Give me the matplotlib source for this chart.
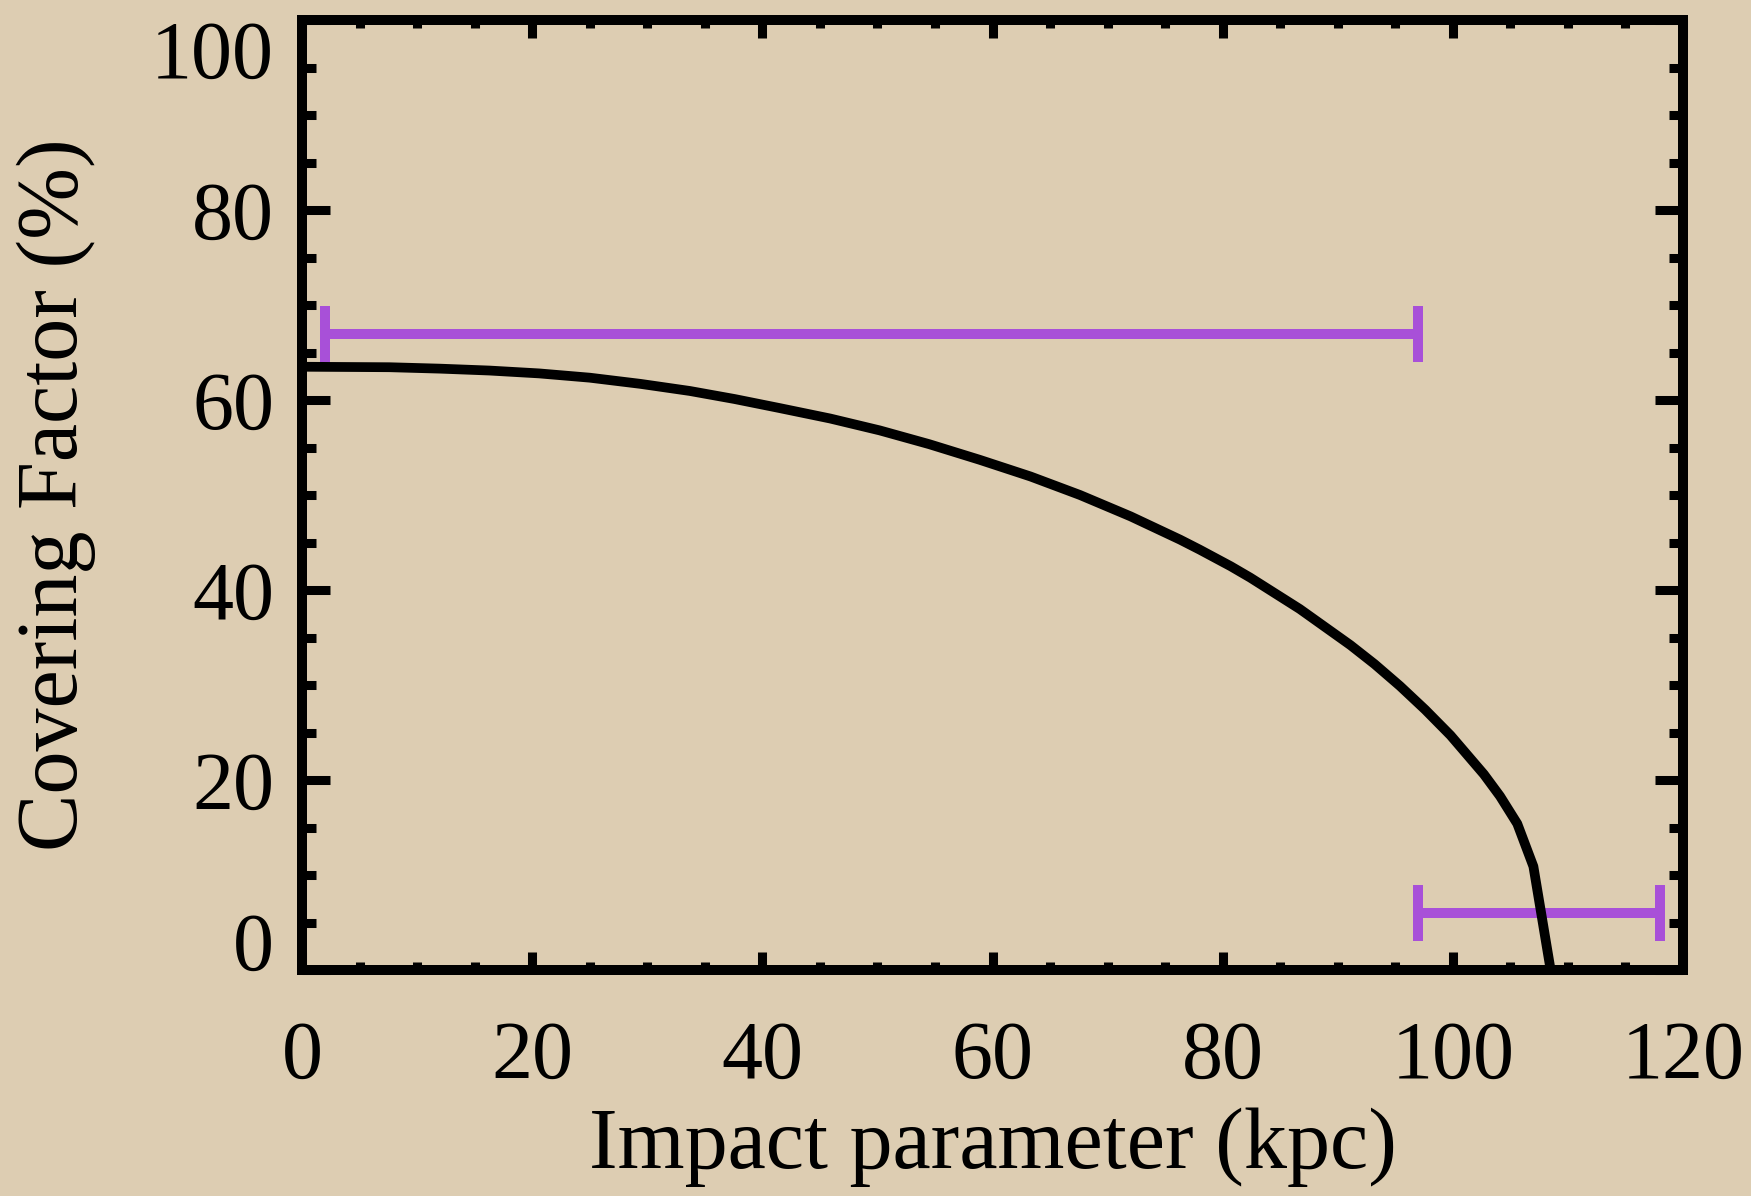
import numpy as np
import matplotlib.pyplot as plt
from matplotlib.ticker import MultipleLocator

# covering factor model curve
impact_kpc = [0, 7.6, 12, 16.3, 20.6, 25.0, 29.4, 33.7, 37.6, 41.5, 45.9, 50.2,
              54.5, 58.9, 63.3, 67.6, 72.0, 76.3, 78.0, 80.7, 82.4, 86.7, 91.1,
              93.2, 95.4, 97.6, 99.8, 102.7, 104.1, 105.6, 107.0, 108.5]
cover_pct = [63.5, 63.45, 63.3, 63.1, 62.8, 62.35, 61.7, 60.95, 60.1, 59.15, 58.05, 56.8,
             55.35, 53.7, 51.95, 50.0, 47.75, 45.3, 44.25, 42.5, 41.3, 38.0, 34.2,
             32.2, 29.9, 27.4, 24.7, 20.6, 18.3, 15.4, 10.9, 0.0]

# measured covering factor in impact-parameter bins
bin_lo = [2, 97]
bin_hi = [97, 118]
bin_cf = [67, 6]

x_ticks = [0, 20, 40, 60, 80, 100, 120]
y_ticks = [0, 20, 40, 60, 80, 100]

bg = '#DDCDB2'
purple = '#A850D8'

plt.rcParams['font.family'] = ['Liberation Serif', 'DejaVu Serif']

fig = plt.figure(figsize=(17.51, 11.96), dpi=100, facecolor=bg)
ax = fig.add_axes([302 / 1751, 1 - 970 / 1196, 1381 / 1751, 950 / 1196])
ax.set_facecolor(bg)

ax.plot(impact_kpc, cover_pct, color='black', lw=7.0, solid_joinstyle='round',
        solid_capstyle='butt', zorder=3)

centers = [(a + b) / 2 for a, b in zip(bin_lo, bin_hi)]
halfw = [(b - a) / 2 for a, b in zip(bin_lo, bin_hi)]
ax.errorbar(centers, bin_cf, xerr=halfw, fmt='none', ecolor=purple,
            elinewidth=7.2, capsize=20.5, capthick=7.2, zorder=2)

ax.set_xlim(0, 120)
ax.set_ylim(0, 100)
ax.set_xticks(x_ticks)
ax.set_yticks(y_ticks)
ax.xaxis.set_minor_locator(MultipleLocator(5))
ax.yaxis.set_minor_locator(MultipleLocator(5))

for s in ax.spines.values():
    s.set_linewidth(7.2)

ax.tick_params(which='both', direction='in', top=True, right=True, width=6.5,
               colors='black', labelsize=59)
ax.tick_params(axis='x', which='major', length=13, pad=36)
ax.tick_params(axis='x', which='minor', length=6)
ax.tick_params(axis='y', which='major', length=20, pad=20)
ax.tick_params(axis='y', which='minor', length=10)

# IDL-like placement of the end labels on the y axis
ylabels = ax.get_yticklabels()
ylabels[0].set_va('baseline')
ylabels[-1].set_va('top')

ax.set_xlabel('Impact parameter (kpc)', fontsize=62, va='center')
ax.xaxis.set_label_coords(0.5, -0.187)
ax.set_ylabel('Covering Factor (%)', fontsize=62, va='center')
ax.yaxis.set_label_coords(-0.178, 0.5)

fig.savefig('out.png', dpi=100, facecolor=bg)
